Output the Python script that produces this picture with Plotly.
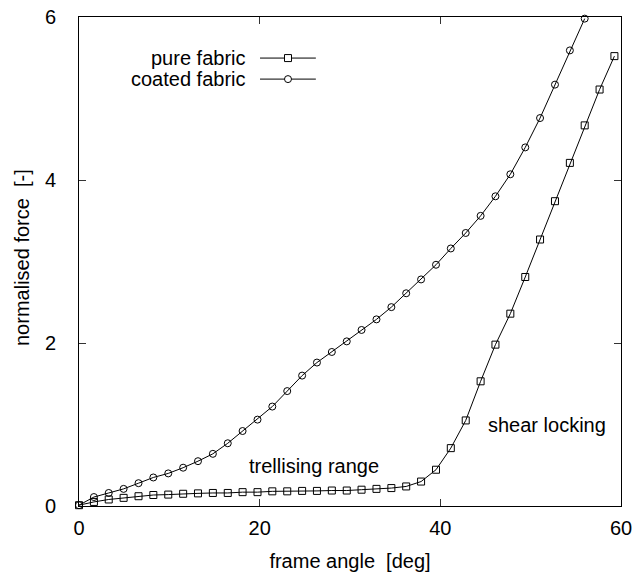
import plotly.graph_objects as go

# frame angle [deg]
angle_pure = [0, 1.65, 3.29, 4.94, 6.59, 8.23, 9.88, 11.53, 13.17, 14.82, 16.47, 18.11,
              19.76, 21.40, 23.05, 24.70, 26.34, 27.99, 29.64, 31.28, 32.93, 34.58, 36.22,
              37.87, 39.52, 41.16, 42.81, 44.46, 46.10, 47.75, 49.40, 51.04, 52.69, 54.34,
              55.98, 57.63, 59.27]
force_pure = [0.01, 0.05, 0.08, 0.10, 0.12, 0.135, 0.14, 0.15, 0.155, 0.16, 0.16, 0.17,
              0.17, 0.18, 0.18, 0.185, 0.185, 0.19, 0.19, 0.20, 0.21, 0.22, 0.24,
              0.30, 0.445, 0.71, 1.05, 1.53, 1.98, 2.36, 2.81, 3.27, 3.74, 4.21,
              4.67, 5.11, 5.52]

angle_coated = angle_pure[:35]
force_coated = [0.01, 0.11, 0.16, 0.21, 0.28, 0.35, 0.40, 0.47, 0.55, 0.64, 0.77, 0.92,
                1.06, 1.22, 1.41, 1.60, 1.76, 1.89, 2.02, 2.16, 2.29, 2.44, 2.61,
                2.78, 2.96, 3.16, 3.35, 3.56, 3.80, 4.07, 4.40, 4.76, 5.17, 5.59, 5.98]

series_names = ["pure fabric", "coated fabric"]
x_ticks = [0, 20, 40, 60]
y_ticks = [0, 2, 4, 6]

FONT = "Liberation Sans, Arial, Helvetica, sans-serif"
FS = 20

fig = go.Figure()
fig.add_trace(go.Scatter(
    x=angle_pure, y=force_pure, mode="lines+markers", name=series_names[0],
    line=dict(color="black", width=1),
    marker=dict(symbol="square-open", size=7, color="black", line=dict(width=1)),
    cliponaxis=False, showlegend=False))
fig.add_trace(go.Scatter(
    x=angle_coated, y=force_coated, mode="lines+markers", name=series_names[1],
    line=dict(color="black", width=1),
    marker=dict(symbol="circle-open", size=7, color="black", line=dict(width=1)),
    cliponaxis=False, showlegend=False))

axis_common = dict(
    showgrid=False, zeroline=False, showline=True, linecolor="black", linewidth=1,
    mirror="ticks", ticks="inside", ticklen=7, tickcolor="#333", tickwidth=1,
    tickfont=dict(family=FONT, size=FS, color="black"), automargin=False,
    ticklabeloverflow="allow",
)
fig.update_xaxes(range=[0, 60], tickvals=x_ticks, ticktext=[str(v) for v in x_ticks],
                 ticklabelstandoff=4,
                 title=dict(text="frame angle  [deg]", font=dict(family=FONT, size=FS, color="black")),
                 **axis_common)
fig.update_yaxes(range=[0, 6], tickvals=y_ticks, ticktext=[str(v) for v in y_ticks],
                 ticklabelstandoff=18, **axis_common)

# plot area in paper pixels (used to place annotations)
PW, PH = 542, 489

# y-axis title as rotated annotation
fig.add_annotation(x=(22 - 79) / PW, y=(506 - 258) / PH, xref="paper", yref="paper",
                   text="normalised force  [-]", textangle=-90, showarrow=False,
                   xanchor="center", yanchor="middle",
                   font=dict(family=FONT, size=FS, color="black"))

# legend drawn manually (text to the left of the sample)
legend_y = [0.916, 0.873]
symbols = ["rect", "circle"]
for name, yy, sym in zip(series_names, legend_y, symbols):
    fig.add_annotation(x=0.312, y=yy, xref="paper", yref="paper", text=name,
                       showarrow=False, xanchor="right", yanchor="middle",
                       font=dict(family=FONT, size=FS, color="black"))
    fig.add_shape(type="line", xref="paper", yref="paper", x0=0.334, x1=0.437, y0=yy, y1=yy,
                  line=dict(color="black", width=1))
    fig.add_shape(type=sym, xref="paper", yref="paper", xsizemode="pixel", ysizemode="pixel",
                  xanchor=0.3856, yanchor=yy, x0=-3.5, x1=3.5, y0=-3.5, y1=3.5,
                  line=dict(color="black", width=1), fillcolor="white")

fig.add_annotation(x=(314 - 79) / PW, y=(506 - 466) / PH, xref="paper", yref="paper",
                   text="trellising range", showarrow=False, xanchor="center", yanchor="middle",
                   font=dict(family=FONT, size=FS, color="black"))
fig.add_annotation(x=(547 - 79) / PW, y=(506 - 425) / PH, xref="paper", yref="paper",
                   text="shear locking", showarrow=False, xanchor="center", yanchor="middle",
                   font=dict(family=FONT, size=FS, color="black"))

fig.update_layout(
    width=636, height=573,
    margin=dict(l=79, r=15, t=17, b=67),
    paper_bgcolor="white", plot_bgcolor="white",
    font=dict(family=FONT, size=FS, color="black"),
)

# remove the default page margin so the figure fills the window exactly
fig.write_html("out.html",
               config={"displayModeBar": False},
               post_script="document.body.style.margin='0';document.body.style.overflow='hidden';")
